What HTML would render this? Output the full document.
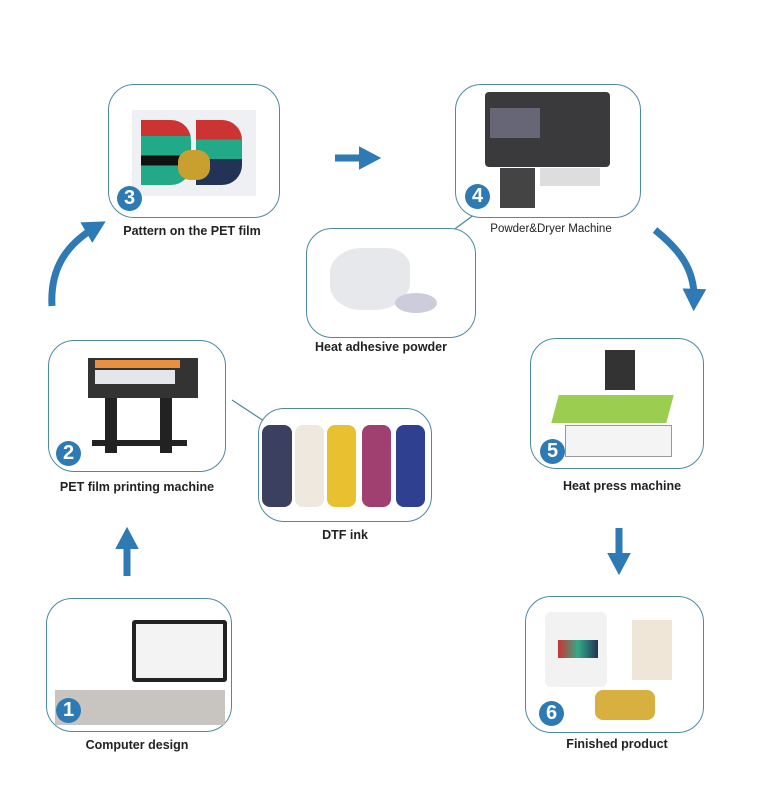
<!DOCTYPE html>
<html><head><meta charset="utf-8"><style>
body{margin:0;background:#fff;width:761px;height:807px;position:relative;overflow:hidden;font-family:"Liberation Sans",sans-serif}
.b{position:absolute;border:1.3px solid #4d8aa0;border-radius:26px;background:#fff;box-sizing:border-box}
.l{position:absolute;font-size:12.5px;font-weight:bold;color:#222;white-space:nowrap;transform:translateX(-50%)}
.n{position:absolute;width:25px;height:25px;border-radius:50%;background:#2e7ab5;color:#fff;font-weight:bold;font-size:20px;text-align:center;line-height:25px}
</style></head><body>
<svg width="761" height="807" style="position:absolute;left:0;top:0">
<defs><marker id="m" markerWidth="3.2" markerHeight="3.4" refX="1.6" refY="1.7" orient="auto"><path d="M0,0 L3.2,1.7 L0,3.4z" fill="#2e7ab5"/></marker></defs>
<path d="M52,306 C50,270 65,245 96,227" stroke="#2e7ab5" stroke-width="7" fill="none" marker-end="url(#m)"/>
<path d="M655,230 C680,250 695,270 694,300" stroke="#2e7ab5" stroke-width="7" fill="none" marker-end="url(#m)"/>
<path d="M335,158 L370,158" stroke="#2e7ab5" stroke-width="7" marker-end="url(#m)"/>
<path d="M127,576 L127,538" stroke="#2e7ab5" stroke-width="7" marker-end="url(#m)"/>
<path d="M619,528 L619,564" stroke="#2e7ab5" stroke-width="7" marker-end="url(#m)"/>
<path d="M232,400 L270,425" stroke="#4d8aa0" stroke-width="1.3"/>
<path d="M475,214 L440,240" stroke="#4d8aa0" stroke-width="1.3"/>
</svg>
<div class="b" style="left:108px;top:84px;width:172px;height:134px"></div>
<div style="position:absolute;left:132px;top:110px;width:124px;height:86px;background:#eef0f3"></div>
<div style="position:absolute;left:141px;top:120px;width:50px;height:65px;background:linear-gradient(#c33 0 25%,#2a8 25% 55%,#111 55% 70%,#2a8 70%);border-radius:0 20px 20px 0"></div>
<div style="position:absolute;left:196px;top:120px;width:46px;height:65px;background:linear-gradient(#c33 0 30%,#2a8 30% 60%,#235 60%);border-radius:0 20px 20px 0"></div>
<div style="position:absolute;left:178px;top:150px;width:32px;height:30px;background:#c9a030;border-radius:40%"></div>
<div class="n" style="left:117px;top:186px">3</div>
<div class="l" style="left:192px;top:224px">Pattern on the PET film</div>

<div class="b" style="left:455px;top:84px;width:186px;height:134px"></div>
<div style="position:absolute;left:485px;top:92px;width:125px;height:75px;background:#3a3a3c;border-radius:4px"></div>
<div style="position:absolute;left:490px;top:108px;width:50px;height:30px;background:#667"></div>
<div style="position:absolute;left:500px;top:168px;width:35px;height:40px;background:#444"></div>
<div style="position:absolute;left:540px;top:168px;width:60px;height:18px;background:#ddd"></div>
<div class="n" style="left:465px;top:184px">4</div>
<div class="l" style="left:551px;top:223px;font-weight:normal;font-size:11.5px">Powder&amp;Dryer Machine</div>

<div class="b" style="left:306px;top:228px;width:170px;height:110px"></div>
<div style="position:absolute;left:330px;top:248px;width:80px;height:62px;background:#e6e8ec;border-radius:40% 30% 45% 40%"></div>
<div style="position:absolute;left:395px;top:293px;width:42px;height:20px;background:#ccd;border-radius:50%"></div>
<div class="l" style="left:381px;top:340px">Heat adhesive powder</div>

<div class="b" style="left:48px;top:340px;width:178px;height:132px"></div>
<div style="position:absolute;left:88px;top:358px;width:110px;height:40px;background:#333"></div>
<div style="position:absolute;left:95px;top:360px;width:85px;height:8px;background:#e89040"></div>
<div style="position:absolute;left:95px;top:370px;width:80px;height:14px;background:#e4e6ea"></div>
<div style="position:absolute;left:105px;top:398px;width:12px;height:55px;background:#222"></div>
<div style="position:absolute;left:160px;top:398px;width:12px;height:55px;background:#222"></div>
<div style="position:absolute;left:92px;top:440px;width:95px;height:6px;background:#222"></div>
<div class="n" style="left:56px;top:441px">2</div>
<div class="l" style="left:137px;top:480px">PET film printing machine</div>

<div class="b" style="left:258px;top:408px;width:174px;height:114px"></div>
<div style="position:absolute;left:262px;top:425px;width:30px;height:82px;background:#3c4060;border-radius:8px"></div>
<div style="position:absolute;left:295px;top:425px;width:29px;height:82px;background:#eee8de;border-radius:8px"></div>
<div style="position:absolute;left:327px;top:425px;width:29px;height:82px;background:#e8c030;border-radius:8px"></div>
<div style="position:absolute;left:362px;top:425px;width:29px;height:82px;background:#a04070;border-radius:8px"></div>
<div style="position:absolute;left:396px;top:425px;width:29px;height:82px;background:#304090;border-radius:8px"></div>
<div class="l" style="left:345px;top:528px">DTF ink</div>

<div class="b" style="left:530px;top:338px;width:174px;height:131px"></div>
<div style="position:absolute;left:605px;top:350px;width:30px;height:40px;background:#333"></div>
<div style="position:absolute;left:555px;top:395px;width:115px;height:28px;background:#9acd50;transform:skewX(-15deg)"></div>
<div style="position:absolute;left:565px;top:425px;width:105px;height:30px;background:#f4f4f4;border:1px solid #999"></div>
<div class="n" style="left:540px;top:439px">5</div>
<div class="l" style="left:622px;top:479px">Heat press machine</div>

<div class="b" style="left:46px;top:598px;width:186px;height:134px"></div>
<div style="position:absolute;left:132px;top:620px;width:95px;height:62px;background:#222;border-radius:3px"></div>
<div style="position:absolute;left:136px;top:624px;width:87px;height:54px;background:#f3f3f3"></div>
<div style="position:absolute;left:55px;top:690px;width:170px;height:35px;background:#c8c4c0"></div>
<div class="n" style="left:56px;top:698px">1</div>
<div class="l" style="left:137px;top:738px">Computer design</div>

<div class="b" style="left:525px;top:596px;width:179px;height:137px"></div>
<div style="position:absolute;left:545px;top:612px;width:62px;height:75px;background:#f2f2f2;border-radius:6px"></div>
<div style="position:absolute;left:558px;top:640px;width:40px;height:18px;background:linear-gradient(90deg,#c33,#3a8,#235)"></div>
<div style="position:absolute;left:632px;top:620px;width:40px;height:60px;background:#efe6d8"></div>
<div style="position:absolute;left:595px;top:690px;width:60px;height:30px;background:#d8b040;border-radius:8px"></div>
<div class="n" style="left:539px;top:701px">6</div>
<div class="l" style="left:617px;top:737px">Finished product</div>
</body></html>
